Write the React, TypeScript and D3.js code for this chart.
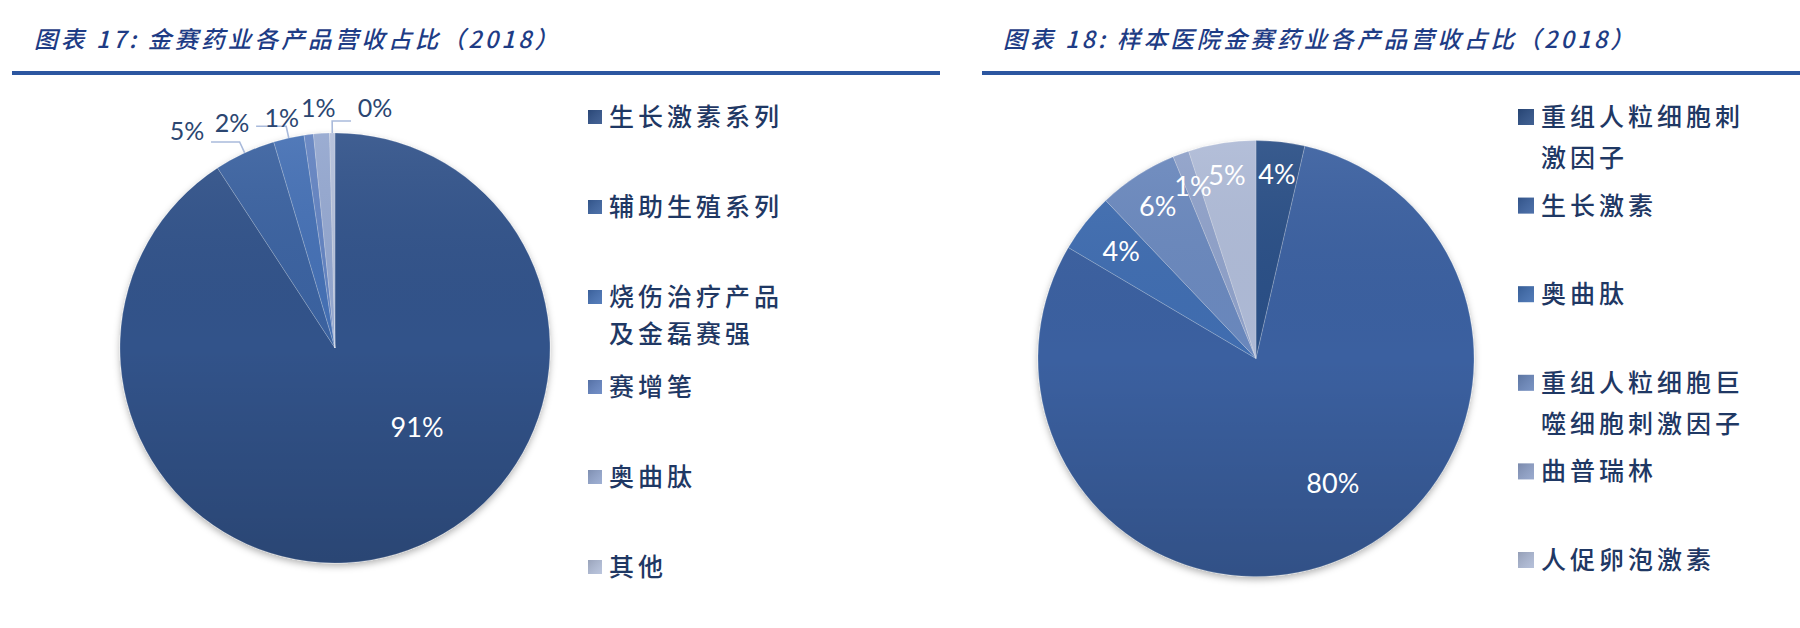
import React from 'react'
import * as d3 from 'd3'

// chart 17: revenue share by product line (2018)
const leftTitle = '图表 17: 金赛药业各产品营收占比（2018）'
const leftCategories = ['生长激素系列', '辅助生殖系列', '烧伤治疗产品及金磊赛强', '赛增笔', '奥曲肽', '其他']
const leftValues = [90.8, 4.6, 2.3, 0.7, 1.2, 0.4]
const leftColors = ['#30528A', '#3A62A0', '#4470B4', '#6383C1', '#94A7CF', '#B3BFDA']

// chart 18: sample-hospital revenue share by product (2018)
const rightTitle = '图表 18: 样本医院金赛药业各产品营收占比（2018）'
const rightCategories = ['重组人粒细胞刺激因子', '生长激素', '奥曲肽', '重组人粒细胞巨噬细胞刺激因子', '曲普瑞林', '人促卵泡激素']
const rightValues = [3.6, 79.9, 4.4, 5.9, 1.2, 5.0]
const rightColors = ['#2C4F86', '#3A61A0', '#3F6DB0', '#6B88BD', '#8FA1C9', '#AEBAD6']

const FONT_CJK = '"Noto Sans CJK SC", "Noto Sans", sans-serif'
const FONT_NUM = 'Lato, "Open Sans", sans-serif'
const TEXT_DARK = '#1F3864'
const RULE = '#2C56A0'
const DEG = Math.PI / 180

// label placement, relative to each slice's mid angle
interface Placement { inside: boolean; shift: number; r: number }

const leftPlacement: Placement[] = [
  { inside: true, shift: -29.5, r: 0.53 },
  { inside: false, shift: -9.4, r: 48 },
  { inside: false, shift: -12.2, r: 32 },
  { inside: false, shift: -6, r: 21 },
  { inside: false, shift: -0.4, r: 26 },
  { inside: false, shift: 10.2, r: 28 },
]
const rightPlacement: Placement[] = [
  { inside: true, shift: 0, r: 0.85 },
  { inside: true, shift: -8.4, r: 0.672 },
  { inside: true, shift: 0, r: 0.79 },
  { inside: true, shift: 0, r: 0.83 },
  { inside: true, shift: 0, r: 0.84 },
  { inside: true, shift: 0, r: 0.853 },
]

const polar = (a: number, r: number): [number, number] => [Math.sin(a) * r, -Math.cos(a) * r]

function wrap(s: string, n: number) {
  const out: string[] = []
  for (let i = 0; i < s.length; i += n) out.push(s.slice(i, i + n))
  return out
}

interface PanelProps {
  id: string
  title: string
  titleX: number
  ruleX0: number
  ruleX1: number
  cx: number
  cy: number
  radius: number
  categories: string[]
  values: number[]
  colors: string[]
  placement: Placement[]
  legendX: number
  legendTop: number
  legendBottom: number
  swatch: number
  wrapAt: number
  lineGap: number
  labelSize: number
  outsideSize: number
}

function PiePanel(p: PanelProps) {
  const total = d3.sum(p.values)
  const arcs = d3.pie<number>().sort(null).value(d => d)(p.values)
  const arc = d3.arc<d3.PieArcDatum<number>>().innerRadius(0).outerRadius(p.radius)
  const legendY = d3.scalePoint<string>().domain(p.categories).range([p.legendTop, p.legendBottom])
  const fmt = (v: number) => `${Math.round((v / total) * 100)}%`

  return (
    <g>
      <defs>
        <filter id={`${p.id}-shadow`} x="-20%" y="-20%" width="140%" height="140%">
          <feDropShadow dx="0" dy="3" stdDeviation="3.5" floodColor="#000" floodOpacity="0.3" />
        </filter>
        <linearGradient id={`${p.id}-shade`} x1="0" y1="0" x2="0" y2="1">
          <stop offset="0" stopColor="#fff" stopOpacity="0.07" />
          <stop offset="0.5" stopColor="#000" stopOpacity="0" />
          <stop offset="1" stopColor="#000" stopOpacity="0.16" />
        </linearGradient>
        <linearGradient id={`${p.id}-swatch`} x1="0" y1="0" x2="1" y2="1">
          <stop offset="0" stopColor="#000" stopOpacity="0.15" />
          <stop offset="1" stopColor="#fff" stopOpacity="0.1" />
        </linearGradient>
      </defs>

      <text x={p.titleX} y={48} fontFamily={FONT_CJK} fontSize={23.5} fontStyle="italic" fontWeight={500}
        letterSpacing={3.2} fill="#1E3C85">{p.title}</text>
      <line x1={p.ruleX0} x2={p.ruleX1} y1={73} y2={73} stroke={RULE} strokeWidth={4} />

      <g transform={`translate(${p.cx},${p.cy})`}>
        <g filter={`url(#${p.id}-shadow)`}>
          {arcs.map((a, i) => (
            <path key={i} d={arc(a) ?? ''} fill={p.colors[i]} stroke="#ffffff" strokeOpacity={0.25} strokeWidth={0.8} />
          ))}
        </g>
        <circle r={p.radius} fill={`url(#${p.id}-shade)`} pointerEvents="none" />

        {arcs.map((a, i) => {
          const pl = p.placement[i]
          const mid = (a.startAngle + a.endAngle) / 2
          const ang = mid + pl.shift * DEG
          const rr = pl.inside ? pl.r * p.radius : p.radius + pl.r
          const [lx, ly] = polar(ang, rr)
          const label = fmt(a.data)
          if (pl.inside) {
            return (
              <text key={i} x={lx} y={ly} dy="0.36em" textAnchor="middle" fontFamily={FONT_NUM}
                fontSize={p.labelSize} fill="#fff">{label}</text>
            )
          }
          const [ax, ay] = polar(mid, p.radius)
          const [ex, ey] = polar(mid, p.radius + 12)
          const hw = label.length * p.outsideSize * 0.34
          const needLeader = Math.hypot(lx - ax, ly - ay) > 40
          const edge = lx < ex ? lx + hw + 7 : lx - hw - 7
          return (
            <g key={i}>
              {needLeader && (
                <polyline points={`${ax},${ay} ${ex},${ey} ${edge},${ey}`} fill="none"
                  stroke="#A9BADB" strokeWidth={1.6} />
              )}
              <text x={lx} y={ly} dy="0.36em" textAnchor="middle" fontFamily={FONT_NUM}
                fontSize={p.outsideSize} fill="#2B4671">{label}</text>
            </g>
          )
        })}
      </g>

      {p.categories.map((c, i) => {
        const y = legendY(c) ?? 0
        return (
          <g key={c}>
            <rect x={p.legendX} y={y - p.swatch / 2} width={p.swatch} height={p.swatch} fill={p.colors[i]} />
            <rect x={p.legendX} y={y - p.swatch / 2} width={p.swatch} height={p.swatch} fill={`url(#${p.id}-swatch)`} />
            {wrap(c, p.wrapAt).map((line, k) => (
              <text key={k} x={p.legendX + p.swatch + 7} y={y + k * p.lineGap} dy="0.36em"
                fontFamily={FONT_CJK} fontSize={25} fontWeight={500} letterSpacing={4} fill={TEXT_DARK}>{line}</text>
            ))}
          </g>
        )
      })}
    </g>
  )
}

export default function App() {
  return (
    <svg width={1800} height={628} viewBox="0 0 1800 628"
      style={{ position: 'absolute', left: 0, top: 0, background: '#fff' }}>
      <rect width={1800} height={628} fill="#fff" />
      <PiePanel id="left" title={leftTitle} titleX={34} ruleX0={12} ruleX1={940}
        cx={335} cy={348} radius={215}
        categories={leftCategories} values={leftValues} colors={leftColors} placement={leftPlacement}
        legendX={588} legendTop={117} legendBottom={567} swatch={14} wrapAt={6} lineGap={37}
        labelSize={27} outsideSize={25} />
      <PiePanel id="right" title={rightTitle} titleX={1003} ruleX0={982} ruleX1={1800}
        cx={1256} cy={358.5} radius={218}
        categories={rightCategories} values={rightValues} colors={rightColors} placement={rightPlacement}
        legendX={1518} legendTop={117} legendBottom={560} swatch={16} wrapAt={7} lineGap={41}
        labelSize={27} outsideSize={25} />
    </svg>
  )
}
